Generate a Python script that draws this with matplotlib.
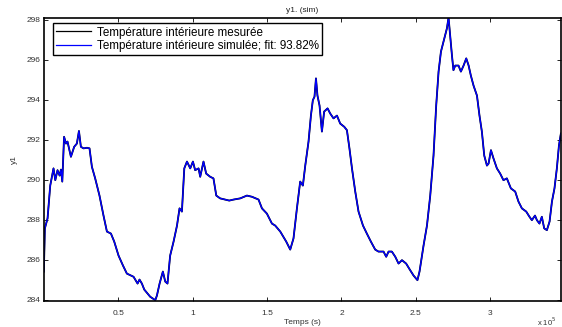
import numpy as np
import matplotlib
matplotlib.use("Agg")
import matplotlib.pyplot as plt
from matplotlib.ticker import FuncFormatter

plt.rcParams['font.family'] = ['Liberation Sans', 'DejaVu Sans']

# temps en unites de 1e5 s
t_1e5 = [0.0, 0.007, 0.025, 0.043, 0.065, 0.077, 0.092, 0.106, 0.115, 0.124,
         0.136, 0.149, 0.159, 0.182, 0.204, 0.222, 0.236, 0.249, 0.267, 0.290,
         0.307, 0.323, 0.345, 0.374, 0.401, 0.424, 0.451, 0.473, 0.502, 0.532,
         0.558, 0.603, 0.630, 0.643, 0.659, 0.675, 0.715, 0.749, 0.760, 0.778,
         0.800, 0.816, 0.831, 0.849, 0.872, 0.895, 0.912, 0.928, 0.944, 0.962,
         0.984, 1.002, 1.017, 1.040, 1.051, 1.073, 1.091, 1.118, 1.140, 1.159,
         1.185, 1.219, 1.246, 1.275, 1.320, 1.365, 1.399, 1.443, 1.466, 1.499,
         1.533, 1.555, 1.589, 1.629, 1.656, 1.678, 1.701, 1.723, 1.741, 1.757,
         1.779, 1.795, 1.808, 1.819, 1.829, 1.839, 1.853, 1.869, 1.884, 1.907,
         1.925, 1.947, 1.970, 1.992, 2.019, 2.037, 2.054, 2.071, 2.093, 2.115,
         2.145, 2.171, 2.198, 2.227, 2.249, 2.283, 2.301, 2.317, 2.339, 2.362,
         2.384, 2.407, 2.435, 2.462, 2.485, 2.511, 2.525, 2.552, 2.575, 2.597,
         2.619, 2.637, 2.653, 2.669, 2.686, 2.709, 2.720, 2.731, 2.743, 2.753,
         2.765, 2.787, 2.803, 2.821, 2.839, 2.855, 2.870, 2.888, 2.911, 2.928,
         2.944, 2.960, 2.978, 2.989, 3.005, 3.022, 3.045, 3.067, 3.089, 3.112,
         3.139, 3.168, 3.190, 3.213, 3.242, 3.264, 3.280, 3.301, 3.314, 3.331,
         3.347, 3.363, 3.381, 3.399, 3.415, 3.432, 3.448, 3.462, 3.475]

y_mesure = [285.4, 287.56, 288.06, 289.7, 290.56, 289.97, 290.47, 290.2, 290.5, 289.9,
            292.14, 291.8, 291.9, 291.14, 291.64, 291.8, 292.43, 291.64, 291.56, 291.59,
            291.56, 290.64, 290.06, 289.2, 288.2, 287.4, 287.3, 286.9, 286.2, 285.7,
            285.3, 285.14, 284.8, 285.0, 284.8, 284.5, 284.14, 283.97, 284.2, 284.8,
            285.4, 284.9, 284.8, 286.2, 286.9, 287.7, 288.56, 288.4, 290.56, 290.9,
            290.56, 290.9, 290.47, 290.56, 290.14, 290.9, 290.3, 290.14, 290.06, 289.2,
            289.06, 289.0, 288.95, 289.0, 289.06, 289.2, 289.14, 289.0, 288.56, 288.3,
            287.8, 287.7, 287.4, 286.9, 286.5, 287.06, 288.56, 289.9, 289.7, 290.7,
            291.9, 293.2, 293.97, 294.14, 295.06, 294.2, 293.7, 292.4, 293.4, 293.56,
            293.3, 293.06, 293.2, 292.8, 292.64, 292.47, 291.56, 290.56, 289.4, 288.4,
            287.7, 287.3, 286.9, 286.5, 286.4, 286.4, 286.14, 286.4, 286.4, 286.14,
            285.8, 285.97, 285.8, 285.47, 285.2, 284.97, 285.4, 286.7, 287.7, 289.2,
            291.2, 293.7, 295.4, 296.4, 296.9, 297.56, 298.1, 297.2, 296.2, 295.47,
            295.7, 295.7, 295.4, 295.7, 296.06, 295.7, 295.2, 294.7, 294.2, 293.2,
            292.4, 291.2, 290.7, 290.8, 291.47, 291.06, 290.56, 290.3, 289.97, 290.06,
            289.56, 289.4, 288.9, 288.56, 288.4, 288.14, 287.97, 288.2, 287.97, 287.8,
            288.14, 287.56, 287.47, 287.9, 288.9, 289.56, 290.56, 291.7, 292.3]

# la simulation se superpose a la mesure a cette resolution
y_simule = list(y_mesure)

fit = 93.82
x_ticks = [0.5e5, 1e5, 1.5e5, 2e5, 2.5e5, 3e5]
y_ticks = [284, 286, 288, 290, 292, 294, 296, 298]

t = np.array(t_1e5) * 1e5

fig = plt.figure(figsize=(5.62, 3.27), dpi=100)
ax = fig.add_axes([0.078, 0.079, 0.92, 0.866])

ax.plot(t, y_mesure, color='black', lw=1.3, label='Température intérieure mesurée')
ax.plot(t, y_simule, color='#0000ff', lw=1.0,
        label='Température intérieure simulée; fit: %.2f%%' % fit)

ax.set_xlim(0, t[-1])
ax.set_ylim(283.92, 298.08)
ax.set_xticks(x_ticks)
ax.set_yticks(y_ticks)
ax.xaxis.set_major_formatter(FuncFormatter(lambda v, p: '%g' % (v / 1e5)))
ax.tick_params(direction='in', top=True, right=True, length=3, width=0.6,
               labelsize=6, labelcolor='#333333')
ax.tick_params(axis='x', pad=6)
ax.tick_params(axis='y', pad=2.5)
for s in ax.spines.values():
    s.set_linewidth(1.2)

ax.set_xlabel('Temps (s)', fontsize=6, color='#333333', labelpad=2)
ax.set_ylabel('y1', fontsize=6, color='#333333', labelpad=6)
ax.set_title('y1. (sim)', fontsize=6, color='#222222', pad=4)
fig.text(0.955, 0.004, 'x 10$^5$', fontsize=5.5, color='#333333')

leg = ax.legend(loc='upper left', bbox_to_anchor=(0.0177, 0.982), borderaxespad=0,
                fontsize=8.4, fancybox=False, framealpha=1, edgecolor='black',
                handlelength=3.0, handletextpad=0.45, borderpad=0.3,
                labelspacing=0.12)
leg.get_frame().set_linewidth(1.0)
for h in leg.get_lines():
    h.set_linewidth(0.9)

fig.savefig('out.png', dpi=100)
